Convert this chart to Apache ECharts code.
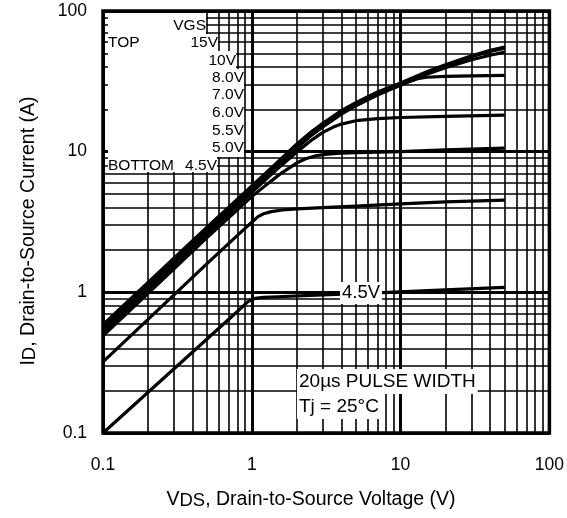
<!DOCTYPE html>
<html><head><meta charset="utf-8">
<script src="https://cdn.jsdelivr.net/npm/echarts@6/dist/echarts.min.js"></script>
<style>html,body{margin:0;padding:0;background:#fff}#c{width:567px;height:518px}</style>
</head><body><div id="c"></div>
<script>
// ---- data: VDS (V), ID (A) ----
const curve15V = [[0.1,0.59],[0.2,1.17],[0.5,2.9],[1,5.7],[1.5,8.5],[2,11.3],[2.5,13.8],[3,15.9],[4,19.6],[5,22.3],[7,26.6],[10,30.8],[15,37],[20,41.5],[30,48],[40,52.5],[50,55.5]];
const curve10V = [[0.1,0.58],[0.2,1.15],[0.5,2.85],[1,5.6],[1.5,8.35],[2,11.1],[2.5,13.6],[3,15.6],[4,19.3],[5,22],[7,26.3],[10,30.4],[15,36.5],[20,41],[30,47.3],[40,51.5],[50,54.5]];
const curve8V  = [[0.1,0.56],[0.2,1.11],[0.5,2.75],[1,5.45],[1.5,8.15],[2,10.8],[2.5,13.3],[3,15.3],[4,18.9],[5,21.6],[7,25.8],[10,29.8],[15,35.5],[20,39.5],[30,45],[40,48.5],[50,51]];
const curve7V  = [[0.1,0.54],[0.2,1.08],[0.5,2.68],[1,5.3],[1.5,7.95],[2,10.5],[2.5,13],[3,15],[4,18.5],[5,21.2],[7,25.3],[9,28.3],[10,29.6],[11.5,31.6],[13,33],[15,33.8],[20,34.3],[30,34.6],[50,34.9]];
const curve6V  = [[0.1,0.52],[0.2,1.04],[0.5,2.6],[1,5.15],[1.5,7.6],[2,9.9],[2.5,12],[3,13.7],[3.5,14.9],[4,15.7],[5,16.6],[7,17.2],[10,17.5],[20,17.8],[50,18.2]];
const curve55V = [[0.1,0.49],[0.2,0.98],[0.5,2.45],[1,4.8],[1.3,6.0],[1.6,7.1],[2,8.3],[2.3,8.9],[2.7,9.35],[3.2,9.6],[4,9.75],[5,9.85],[10,10.0],[20,10.3],[50,10.6]];
const curve5V  = [[0.1,0.32],[0.2,0.64],[0.5,1.6],[0.9,2.85],[1,3.15],[1.1,3.45],[1.2,3.62],[1.35,3.75],[1.6,3.85],[2,3.92],[3,4.0],[5,4.1],[10,4.25],[20,4.4],[50,4.53]];
const curve45V = [[0.1,0.1],[0.2,0.194],[0.5,0.466],[0.8,0.73],[0.95,0.865],[1.05,0.905],[1.2,0.92],[1.5,0.93],[3,0.96],[7.6,0.995],[20,1.04],[50,1.085]];
const curves = [curve15V, curve10V, curve8V, curve7V, curve6V, curve55V, curve5V, curve45V];

const legendTitle = 'VGS';
const legendLabels = ['15V','10V','8.0V','7.0V','6.0V','5.5V','5.0V','4.5V'];
const xTickLabels = ['0.1','1','10','100'];
const yTickLabels = ['0.1','1','10','100'];
const minorGridX = [0.2,0.3,0.4,0.5,0.6,0.7,0.8,0.9,2,3,4,5,6,7,8,9,20,30,40,50,60,70,80,90];
const minorGridY = [0.2,0.3,0.4,0.5,0.6,0.7,0.8,0.9,2,3,4,5,6,7,8,9,20,30,40,50,60,70,80,90];

// ---- layout ----
const FONT = '"Liberation Sans", Arial, Helvetica, sans-serif';
const whiteBoxes = [[108,13,206,34],[108,34,218,51],[108,51,236,69],[108,69,244,157],[108,157,217,172]];
const legendPos = [[206,26,'right'],[218,43,'right'],[236,61,'right'],[244,78,'right'],[244,95,'right'],[244,113,'right'],[244,131,'right'],[244,148,'right'],[217,166,'right']];

const chart = echarts.init(document.getElementById('c'));
const graphics = [];
whiteBoxes.forEach(b => graphics.push({type:'rect', z:10, silent:true,
  shape:{x:b[0], y:b[1], width:b[2]-b[0], height:b[3]-b[1]}, style:{fill:'#fff'}}));
const legTexts = [legendTitle].concat(legendLabels);
legTexts.forEach((t,i) => graphics.push({type:'text', z:11, x:legendPos[i][0], y:legendPos[i][1],
  style:{text:t, fill:'#000', font:'15.5px ' + FONT, align:legendPos[i][2], verticalAlign:'middle'}}));
graphics.push({type:'text', z:11, x:108, y:43, style:{text:'TOP', fill:'#000', font:'15.5px '+FONT, align:'left', verticalAlign:'middle'}});
graphics.push({type:'text', z:11, x:108, y:166, style:{text:'BOTTOM', fill:'#000', font:'15.5px '+FONT, align:'left', verticalAlign:'middle'}});
graphics.push({type:'text', z:11, x:361, y:293, style:{text:'4.5V', fill:'#000', font:'18.5px '+FONT, align:'center', verticalAlign:'middle', backgroundColor:'#fff', padding:[2,2,1,2]}});
graphics.push({type:'text', z:11, x:297, y:381.5, style:{text:'20µs PULSE WIDTH', fill:'#000', font:'19px '+FONT, align:'left', verticalAlign:'middle', backgroundColor:'#fff', padding:[3,2,3,2]}});
graphics.push({type:'text', z:11, x:297, y:406.5, style:{text:'Tj = 25°C', fill:'#000', font:'19px '+FONT, align:'left', verticalAlign:'middle', backgroundColor:'#fff', padding:[3,2,3,2]}});
// axis titles
const titleRich = {a:{fontSize:19.5, fontFamily:FONT, fill:'#000', color:'#000', lineHeight:21, verticalAlign:'top'},
                   s:{fontSize:18.5, fontFamily:FONT, fill:'#000', color:'#000', lineHeight:21, verticalAlign:'bottom', padding:[7,0,0,0]}};
graphics.push({type:'text', z:11, x:311, y:500, style:{
  text:'{a|V}{s|DS}{a|, Drain-to-Source Voltage (V)}', align:'center', verticalAlign:'middle', rich:titleRich}});
graphics.push({type:'text', z:11, x:29, y:231, rotation:Math.PI/2, style:{
  text:'{a|I}{s|D}{a|, Drain-to-Source Current (A)}', align:'center', verticalAlign:'middle', rich:titleRich}});

const series = curves.map(c => ({type:'line', data:c, showSymbol:false, smooth:false,
  lineStyle:{color:'#000', width:3.2, join:'round', cap:'butt'}, z:3, silent:true, animation:false}));
series.push({type:'line', data:[], silent:true, animation:false, z:1,
  markLine:{z:1, silent:true, symbol:['none','none'], animation:false, label:{show:false},
    lineStyle:{color:'#000', width:1.6, type:'solid'},
    emphasis:{disabled:true},
    data: minorGridX.map(v => ({xAxis:v})).concat(minorGridY.map(v => ({yAxis:v})))}});

function fmt(list){ return v => { const s = String(+(+v).toPrecision(3)); return list.indexOf(s) >= 0 ? s : ''; }; }

chart.setOption({
  animation:false,
  backgroundColor:'#fff',
  grid:{left:103, top:11, width:447, height:422, show:true, borderColor:'#000', borderWidth:3.5, backgroundColor:'transparent'},
  xAxis:{type:'log', logBase:10, min:0.1, max:100,
    axisLine:{show:false}, axisTick:{show:false},
    axisLabel:{formatter:fmt(xTickLabels), color:'#000', fontSize:17.5, fontFamily:FONT, margin:23, showMinLabel:true, showMaxLabel:true},
    splitLine:{show:true, lineStyle:{color:'#000', width:3}}},
  yAxis:{type:'log', logBase:10, min:0.1, max:100,
    axisLine:{show:false}, axisTick:{show:false},
    axisLabel:{formatter:fmt(yTickLabels), color:'#000', fontSize:17.5, fontFamily:FONT, margin:16, showMinLabel:true, showMaxLabel:true},
    splitLine:{show:true, lineStyle:{color:'#000', width:3}}},
  series: series,
  graphic: graphics
});
</script></body></html>
